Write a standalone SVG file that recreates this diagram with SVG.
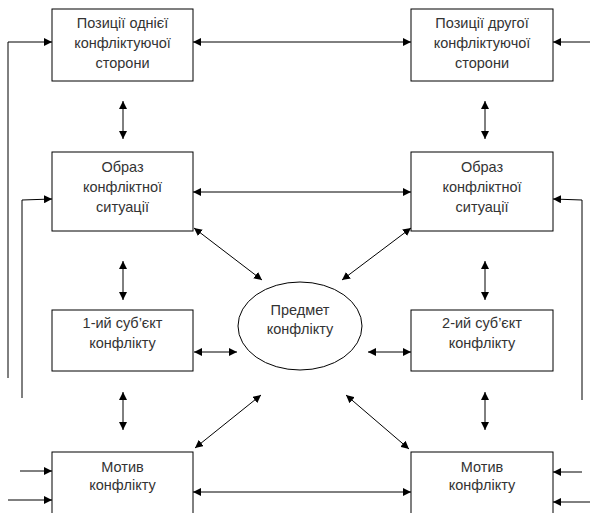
<svg xmlns="http://www.w3.org/2000/svg" width="590" height="513" viewBox="0 0 590 513">
<defs>
<marker id="ah" viewBox="0 0 10 10" refX="10" refY="5" markerWidth="8" markerHeight="8" markerUnits="userSpaceOnUse" orient="auto-start-reverse">
<path d="M0,0 L10,5 L0,10 Z" fill="#000"/>
</marker>
<style>
.box{fill:#fff;stroke:#000;stroke-width:1}
.t{font-family:"Liberation Sans",Arial,sans-serif;font-size:14.5px;fill:#333;text-anchor:middle}
.c{fill:none;stroke:#000;stroke-width:1}
.a{marker-end:url(#ah)}
.d{marker-start:url(#ah);marker-end:url(#ah)}
</style>
</defs>
<rect width="590" height="513" fill="#fff"/>
<g id="connectors">
<polyline class="c a" points="8,378 8,42 52,42"/>
<polyline class="c a" points="22,398 22,200 52,199"/>
<line class="c a" x1="590" y1="42" x2="553" y2="42"/>
<polyline class="c a" points="582,400 582,200 553,199"/>
<line class="c a" x1="20" y1="471" x2="52" y2="471"/>
<line class="c a" x1="8" y1="500" x2="52" y2="500"/>
<line class="c a" x1="582" y1="472" x2="553" y2="472"/>
<line class="c a" x1="590" y1="502" x2="553" y2="502"/>
<line class="c d" x1="193" y1="42" x2="411" y2="42"/>
<line class="c d" x1="193" y1="192" x2="411" y2="192"/>
<line class="c d" x1="193" y1="492" x2="411" y2="492"/>
<line class="c d" x1="194" y1="352" x2="237" y2="352"/>
<line class="c d" x1="368" y1="352" x2="411" y2="352"/>
<line class="c d" x1="123" y1="101" x2="123" y2="139"/>
<line class="c d" x1="123" y1="261" x2="123" y2="300"/>
<line class="c d" x1="123" y1="392" x2="123" y2="430"/>
<line class="c d" x1="485" y1="101" x2="485" y2="139"/>
<line class="c d" x1="485" y1="261" x2="485" y2="300"/>
<line class="c d" x1="485" y1="392" x2="485" y2="430"/>
<line class="c d" x1="194" y1="228" x2="262" y2="280"/>
<line class="c d" x1="411" y1="228" x2="342" y2="280"/>
<line class="c d" x1="261" y1="395" x2="195" y2="448"/>
<line class="c d" x1="346" y1="395" x2="409" y2="449"/>
</g>
<g id="pos1">
<rect class="box" x="52" y="9" width="141" height="72"/>
<text class="t" x="122.5" y="28">Позиції однієї</text>
<text class="t" x="122.5" y="48">конфліктуючої</text>
<text class="t" x="122.5" y="68">сторони</text>
</g>
<g id="pos2">
<rect class="box" x="411" y="9" width="142" height="72"/>
<text class="t" x="482" y="28">Позиції другої</text>
<text class="t" x="482" y="48">конфліктуючої</text>
<text class="t" x="482" y="68">сторони</text>
</g>
<g id="image1">
<rect class="box" x="52" y="152" width="141" height="79"/>
<text class="t" x="122.5" y="172">Образ</text>
<text class="t" x="122.5" y="192">конфліктної</text>
<text class="t" x="122.5" y="212">ситуації</text>
</g>
<g id="image2">
<rect class="box" x="411" y="152" width="142" height="79"/>
<text class="t" x="482" y="172">Образ</text>
<text class="t" x="482" y="192">конфліктної</text>
<text class="t" x="482" y="212">ситуації</text>
</g>
<g id="subject1">
<rect class="box" x="52" y="310" width="141" height="61"/>
<text class="t" x="122.5" y="328">1-ий суб’єкт</text>
<text class="t" x="122.5" y="348">конфлікту</text>
</g>
<g id="subject2">
<rect class="box" x="411" y="310" width="142" height="61"/>
<text class="t" x="482" y="328">2-ий суб’єкт</text>
<text class="t" x="482" y="348">конфлікту</text>
</g>
<g id="object">
<ellipse class="box" cx="300" cy="326" rx="62" ry="44"/>
<text class="t" x="300" y="315">Предмет</text>
<text class="t" x="300" y="334">конфлікту</text>
</g>
<g id="motive1">
<rect class="box" x="52" y="452" width="141" height="70"/>
<text class="t" x="122.5" y="472">Мотив</text>
<text class="t" x="122.5" y="490">конфлікту</text>
</g>
<g id="motive2">
<rect class="box" x="411" y="452" width="142" height="70"/>
<text class="t" x="482" y="472">Мотив</text>
<text class="t" x="482" y="490">конфлікту</text>
</g>
</svg>
